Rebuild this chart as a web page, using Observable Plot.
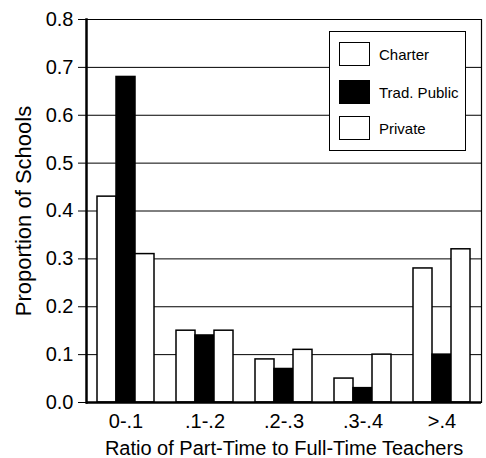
<!DOCTYPE html>
<html>
<head>
<meta charset="utf-8">
<script src="https://cdn.jsdelivr.net/npm/d3@7"></script>
<script src="https://cdn.jsdelivr.net/npm/@observablehq/plot@0.6"></script>
<style>
  html, body { margin: 0; padding: 0; background: white; }
  #wrap { position: relative; width: 486px; height: 458px; font-family: "Liberation Sans", Arial, sans-serif; }
  #legend { position: absolute; left: 329px; top: 31px; width: 137px; height: 120px; border: 1.3px solid black; background: white; box-sizing: border-box; }
  .item { position: absolute; left: 9px; display: flex; align-items: center; }
  .sw { width: 31px; height: 24px; border: 1.6px solid black; box-sizing: border-box; }
  .lab { font-size: 15px; margin-left: 9px; color: black; }
</style>
</head>
<body>
<div id="wrap"></div>
<script>
const categories = ["0-.1", ".1-.2", ".2-.3", ".3-.4", ">.4"];
const series = ["Charter", "Trad. Public", "Private"];
const charter = [0.43, 0.15, 0.09, 0.05, 0.28];
const tradPublic = [0.68, 0.14, 0.07, 0.03, 0.10];
const privateSchools = [0.31, 0.15, 0.11, 0.10, 0.32];
const yTicks = [0, 0.1, 0.2, 0.3, 0.4, 0.5, 0.6, 0.7, 0.8];
const seriesColors = ["white", "black", "white"];

const values = [charter, tradPublic, privateSchools];
const data = categories.flatMap((c, i) => series.map((s, j) => ({category: c, series: s, value: values[j][i]})));

const chart = Plot.plot({
  width: 486,
  height: 458,
  marginLeft: 84,
  marginRight: 4,
  marginTop: 19,
  marginBottom: 56,
  style: {fontFamily: "Liberation Sans, Arial, sans-serif", background: "white", color: "black"},
  fx: {domain: categories, padding: 0},
  x: {domain: series, paddingInner: 0, paddingOuter: 0.5, axis: null},
  y: {domain: [0, 0.8]},
  color: {domain: series, range: seriesColors},
  marks: [
    Plot.gridY(yTicks, {stroke: "black", strokeOpacity: 1, strokeWidth: 1}),
    Plot.barY(data, {fx: "category", x: "series", y: "value", fill: "series", stroke: "black", strokeWidth: 1.5}),
    Plot.ruleY([0], {stroke: "black", strokeWidth: 2.5}),
    Plot.frame({anchor: "left", facetAnchor: "left", stroke: "black", strokeWidth: 2.5}),
    Plot.frame({anchor: "right", facetAnchor: "right", stroke: "black", strokeWidth: 1.2}),
    Plot.axisY(yTicks, {tickSize: 8, tickPadding: 5, tickFormat: d3.format(".1f"), fontSize: 20, label: null}),
    Plot.axisY([], {fontSize: 22, label: "Proportion of Schools", labelAnchor: "center", labelOffset: 71, labelArrow: "none"}),
    Plot.axisFx({anchor: "bottom", tickSize: 0, tickPadding: 11, fontSize: 20, label: "Ratio of Part-Time to Full-Time Teachers", labelAnchor: "center", labelOffset: 52, labelArrow: "none"})
  ]
});

const wrap = document.getElementById("wrap");
wrap.appendChild(chart);

const legend = document.createElement("div");
legend.id = "legend";
const tops = [10, 48, 84];
series.forEach((s, j) => {
  const item = document.createElement("div");
  item.className = "item";
  item.style.top = tops[j] + "px";
  const sw = document.createElement("div");
  sw.className = "sw";
  sw.style.background = seriesColors[j];
  const lab = document.createElement("span");
  lab.className = "lab";
  lab.textContent = s;
  item.appendChild(sw);
  item.appendChild(lab);
  legend.appendChild(item);
});
wrap.appendChild(legend);
</script>
</body>
</html>
